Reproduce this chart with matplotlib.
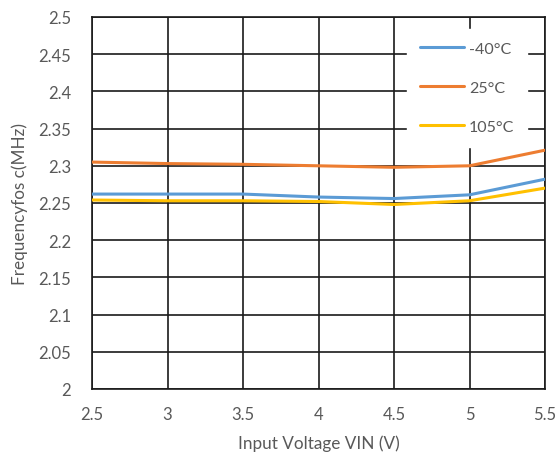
import matplotlib
matplotlib.use("Agg")
import matplotlib.pyplot as plt

plt.rcParams['font.family'] = ['Lato', 'DejaVu Sans']

vin = [2.5, 3.0, 3.5, 4.0, 4.5, 5.0, 5.5]
f_m40 = [2.262, 2.262, 2.262, 2.258, 2.256, 2.261, 2.282]
f_25 = [2.305, 2.303, 2.302, 2.300, 2.298, 2.300, 2.321]
f_105 = [2.254, 2.253, 2.253, 2.252, 2.248, 2.253, 2.270]
series_labels = ['-40°C', '25°C', '105°C']
colors = ['#5b9bd5', '#ed7d31', '#ffc000']
xticks = [2.5, 3, 3.5, 4, 4.5, 5, 5.5]
xticklabels = ['2.5', '3', '3.5', '4', '4.5', '5', '5.5']
yticks = [2.0, 2.05, 2.1, 2.15, 2.2, 2.25, 2.3, 2.35, 2.4, 2.45, 2.5]
yticklabels = ['2', '2.05', '2.1', '2.15', '2.2', '2.25', '2.3', '2.35', '2.4', '2.45', '2.5']

fig = plt.figure(figsize=(5.6, 4.56), dpi=100)
ax = fig.add_axes([92/560, 1-390/456, (545-92)/560, (390-18)/456])

for ys, lab, c in zip([f_m40, f_25, f_105], series_labels, colors):
    ax.plot(vin, ys, color=c, lw=2.2, label=lab, solid_capstyle='round', zorder=3)

ax.set_xlim(2.5, 5.5)
ax.set_ylim(2.0, 2.5)
ax.set_xticks(xticks)
ax.set_xticklabels(xticklabels)
ax.set_yticks(yticks)
ax.set_yticklabels(yticklabels)
ax.grid(True, color='#1a1a1a', lw=1.2, zorder=1)
ax.set_axisbelow(True)
for s in ax.spines.values():
    s.set_color('#1a1a1a')
    s.set_linewidth(1.2)
ax.tick_params(length=0, labelsize=12, labelcolor='#595959', pad=15)
ax.tick_params(axis='x', pad=12)

ax.set_xlabel('Input Voltage VIN (V)', fontsize=12.3, color='#595959', labelpad=9)
ax.set_ylabel('Frequencyfos c(MHz)', fontsize=12.3, color='#595959', labelpad=7.5)

leg = ax.legend(loc='upper left', bbox_to_anchor=(0.695, 0.968), frameon=True,
                fancybox=False, framealpha=1, edgecolor='white', facecolor='white',
                fontsize=11.5, labelspacing=1.55, handlelength=2.8, handletextpad=0.3,
                borderpad=0.8, borderaxespad=0.0)
for t in leg.get_texts():
    t.set_color('#595959')

fig.savefig('out.png', dpi=100)
